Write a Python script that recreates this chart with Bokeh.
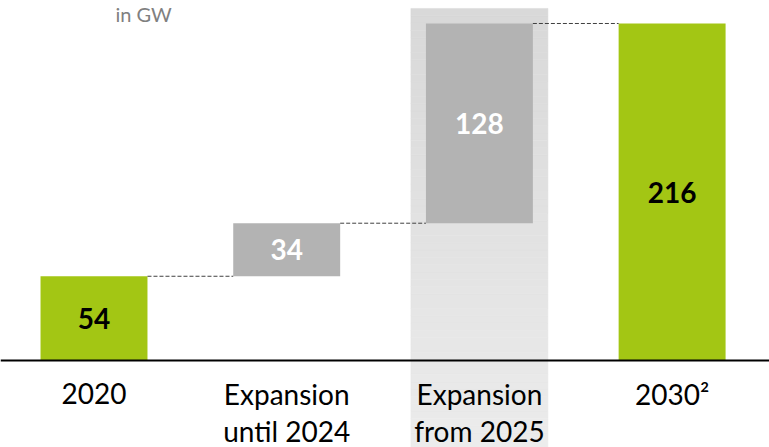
import numpy as np
from bokeh.plotting import figure
from bokeh.models import Range1d, Span
from bokeh.core.properties import value
from bokeh.embed import file_html
from bokeh.resources import INLINE

# ---- data ----
categories = ["2020", "Expansion until 2024", "Expansion from 2025", "2030"]
label_line1 = ["2020", "Expansion", "Expansion", "2030\u00b2"]
label_line2 = ["", "until 2024", "from 2025", ""]
values = [54, 34, 128, 216]
kinds = ["total", "step", "step", "total"]
unit_label = "in GW"

# ---- waterfall geometry from data ----
bottoms, tops = [], []
running = 0
for v, k in zip(values, kinds):
    if k == "total":
        bottoms.append(0)
        tops.append(v)
        running = v
    else:
        bottoms.append(running)
        tops.append(running + v)
        running += v

xs = np.arange(len(values), dtype=float)
bar_w = 0.555
GREEN = "#a3c614"
GRAY = "#b3b3b3"
colors = [GREEN if k == "total" else GRAY for k in kinds]
text_colors = ["#000000" if k == "total" else "#ffffff" for k in kinds]

# ranges (pixel mapping: frame fills the whole page)
PX = 1.5602
y0, y1 = -55.76, 230.74
x0, x1 = -0.4852, 3.5054

p = figure(width=769, height=447, output_backend="svg", toolbar_location=None,
           x_range=Range1d(x0, x1), y_range=Range1d(y0, y1),
           min_border=0, min_border_left=0, min_border_right=0,
           min_border_top=0, min_border_bottom=0)
p.axis.visible = False
p.grid.visible = False
p.outline_line_color = None
p.background_fill_color = "white"
p.border_fill_color = "white"

# highlight band behind "Expansion from 2025" (vertical gradient)
hl_i = 2
hl_w = 0.711
hl_top = 225.6
n = 60
edges = np.linspace(y0, hl_top, n + 1)
shades = np.linspace(0xec, 0xd9, n)
hl_colors = ["#%02x%02x%02x" % (int(s), int(s), int(s)) for s in shades]
p.quad(left=[xs[hl_i] - hl_w / 2] * n, right=[xs[hl_i] + hl_w / 2] * n,
       bottom=edges[:-1], top=edges[1:] + 0.05, fill_color=hl_colors,
       line_color=hl_colors, line_width=0.5)

# bars
p.quad(left=xs - bar_w / 2, right=xs + bar_w / 2, bottom=bottoms, top=tops,
       fill_color=colors, line_color=None)

# dashed connectors
for i in range(len(values) - 1):
    level = tops[i]
    p.line([xs[i] + bar_w / 2, xs[i + 1] - bar_w / 2], [level, level],
           line_color="#404040", line_width=1, line_dash="4 2")

# value labels
mids = [(b + t) / 2 for b, t in zip(bottoms, tops)]
p.text(x=xs, y=mids, text=[str(v) for v in values], text_color=text_colors,
       text_font=value("Lato"), text_font_style="bold", text_font_size="28px",
       text_align="center", text_baseline="middle")

# baseline axis
p.add_layout(Span(location=0, dimension="width", line_color="black", line_width=2))

# category labels
p.text(x=xs, y=[-(393 - 360) / PX] * 4, text=label_line1, text_color="black",
       text_font=value("Lato"), text_font_size="28px",
       text_align="center", text_baseline="alphabetic")
idx2 = [i for i, t in enumerate(label_line2) if t]
p.text(x=[xs[i] for i in idx2], y=[-(430 - 360) / PX] * len(idx2),
       text=[label_line2[i] for i in idx2], text_color="black",
       text_font=value("Lato"), text_font_size="28px",
       text_align="center", text_baseline="alphabetic")

# unit label (top-left, kept fully visible)
p.text(x=[x0 + 115 / 192.7], y=[y1 - 1 / PX], text=[unit_label],
       text_color="#808080", text_font=value("Lato"), text_font_size="20px",
       text_align="left", text_baseline="top")

open("out.html", "w").write(file_html(p, INLINE))
